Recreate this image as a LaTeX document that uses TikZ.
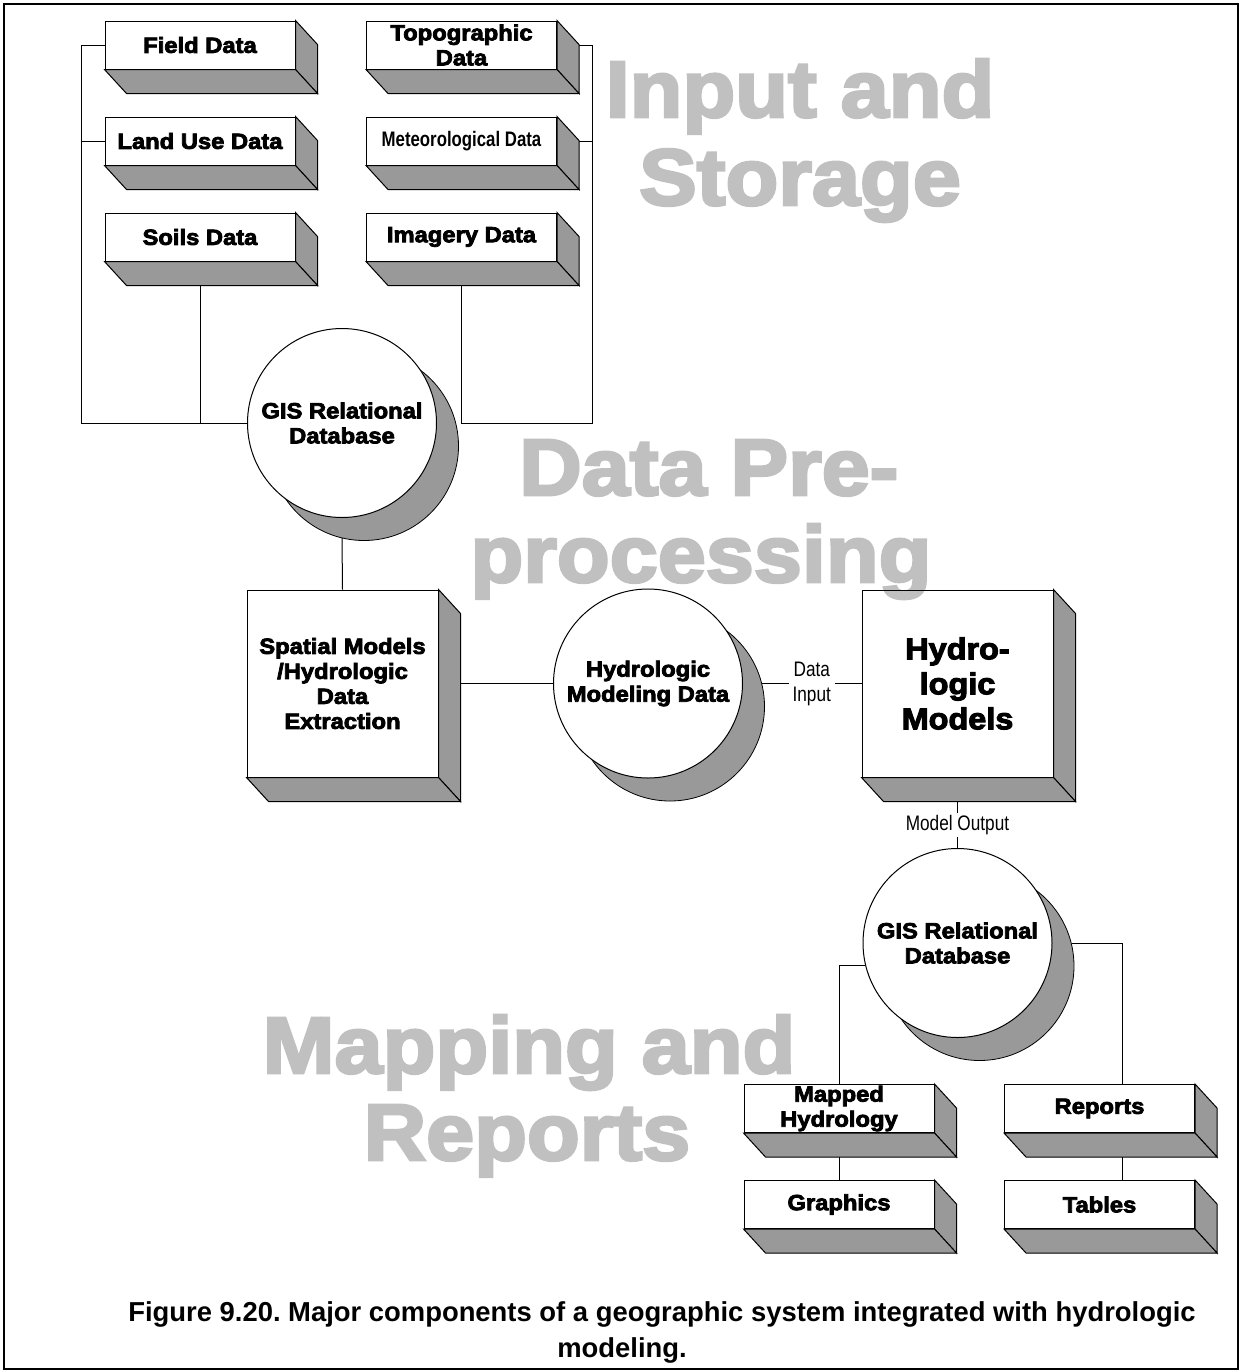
\documentclass[tikz,border=0pt]{standalone}
\usepackage{fontspec}
\setmainfont{Liberation Sans}
\newfontfamily\heavyfont[FakeStretch=1.08,FakeBold=3.5]{Liberation Sans Bold}
\newfontfamily\narrowfont[FakeStretch=0.82]{Liberation Sans}
\newfontfamily\narrowboldfont[FakeStretch=0.8]{Liberation Sans Bold}
\usepackage{tikz}
\usetikzlibrary{positioning,calc,backgrounds}
\definecolor{extrgray}{HTML}{999999}
\definecolor{wmgray}{HTML}{C0C0C0}
\frenchspacing

\begin{document}
\begin{tikzpicture}[x=0.5pt, y=-0.5pt,
    line width=0.5pt,
    block/.style={draw, align=center, inner sep=0pt, minimum width=95pt, minimum height=24pt,
      font=\heavyfont\fontsize{11}{12.5}\selectfont},
    bigblock/.style={block, minimum width=95.5pt, minimum height=93.5pt},
    disk/.style={circle, draw, fill=white, align=center, inner sep=0pt, minimum size=94.5pt,
      font=\heavyfont\fontsize{11}{12.5}\selectfont},
    face/.style={draw, fill=extrgray},
    watermark/.style={anchor=base, text=wmgray, inner sep=0pt, font=\heavyfont\fontsize{40}{44}\selectfont},
    note/.style={fill=white, inner sep=2pt, align=center, font=\narrowfont\fontsize{10.5}{12.5}\selectfont},
    caption/.style={anchor=base, inner sep=0pt, font=\bfseries\fontsize{13.7}{18}\selectfont}
  ]
  \useasboundingbox (0,0) rectangle (1242,1372);
  \draw[line width=1pt] (4,4) rectangle (1238,1369);
  % stage titles
  \node[watermark] (wmInput) at (800,117) {Input and};
  \node[watermark] (wmStorage) at (800,205) {Storage};
  \node[watermark] (wmData) at (709,495) {Data Pre-};
  \node[watermark] (wmProc) at (701,582) {processing};
  \node[watermark] (wmMap) at (529,1073) {Mapping and};
  \node[watermark] (wmRep) at (527,1160) {Reports};
  % input data
  \node[block] (field) at (200,45) {Field Data};
  \node[block, below=23.5pt of field] (landuse) {Land Use Data};
  \node[block, below=23.5pt of landuse] (soils) {Soils Data};
  \node[block, right=35.25pt of field] (topo) {Topographic\\Data};
  \node[block, right=35.25pt of landuse, font=\narrowboldfont\fontsize{10.5}{12.5}\selectfont] (meteo) {Meteorological Data};
  \node[block, right=35.25pt of soils] (imagery) {Imagery Data};
  % database and pre-processing
  \node[disk] (gis1) at (342,423) {GIS Relational\\Database};
  \node[bigblock] (spatial) at (342.5,683.5) {Spatial Models\\/Hydrologic\\Data\\Extraction};
  \node[disk] (hydrodata) at (648,683.5) {Hydrologic\\Modeling Data};
  \node[bigblock, font=\heavyfont\fontsize{15}{17.5}\selectfont] (models) at (957.5,683.5) {Hydro-\\logic\\Models};
  % output side
  \node[disk] (gis2) at (957.5,943) {GIS Relational\\Database};
  \node[block] (mapped) at (839,1108.5) {Mapped\\Hydrology};
  \node[block, below=23.5pt of mapped] (graphics) {Graphics};
  \node[block] (reports) at (1099.5,1108.5) {Reports};
  \node[block, below=23.5pt of reports] (tables) {Tables};
  % 3d faces
  \foreach \b in {field,landuse,soils,topo,meteo,imagery,spatial,models,mapped,graphics,reports,tables}{
    \filldraw[face] (\b.north east) -- ++(22,24) -- ($(\b.south east)+(22,24)$) -- (\b.south east) -- cycle;
    \filldraw[face] (\b.south west) -- ++(22,24) -- ($(\b.south east)+(22,24)$) -- (\b.south east) -- cycle;
  }
  \begin{scope}[on background layer]
    \fill[white] (0,0) rectangle (1242,1372);
    \foreach \c in {gis1,hydrodata,gis2}
      \filldraw[face] ($(\c.center)+(22,23)$) circle (47.25pt);
  \end{scope}
  % edges
  \draw (field.west) -- ++(-23,0) coordinate (lbus) |- (gis1.west);
  \draw (landuse.west) -- (landuse.west -| lbus);
  \draw ($(soils.south)+(0,24)$) -- (soils.south |- gis1.west);
  \draw ($(topo.east)+(22,0)$) -- ++(13,0) coordinate (rbus) |- (imagery.south |- gis1.center) -- ($(imagery.south)+(0,24)$);
  \draw ($(meteo.east)+(22,0)$) -- (meteo.east -| rbus);
  \draw ($(gis1.south)+(0,20)$) -- (spatial.north);
  \draw ($(spatial.east)+(22,0)$) -- (hydrodata.west);
  \draw ($(hydrodata.east)+(19,0)$) -- node[note] {Data\\Input} (models.west);
  \draw ($(models.south)+(0,24)$) -- node[note, inner sep=1pt] {Model Output} (gis2.north);
  \draw (gis2.194) -| (mapped.north);
  \draw ($(gis2.east)+(19,0)$) -| ($(reports.north)+(23,0)$);
  \draw ($(mapped.south)+(0,24)$) -- (graphics.north);
  \draw ($(reports.south)+(23,24)$) -- ($(tables.north)+(23,0)$);
  % caption
  \node[caption] (cap1) at (662,1321) {Figure 9.20. Major components of a geographic system integrated with hydrologic};
  \node[caption] (cap2) at (622,1357) {modeling.};
\end{tikzpicture}
\end{document}
